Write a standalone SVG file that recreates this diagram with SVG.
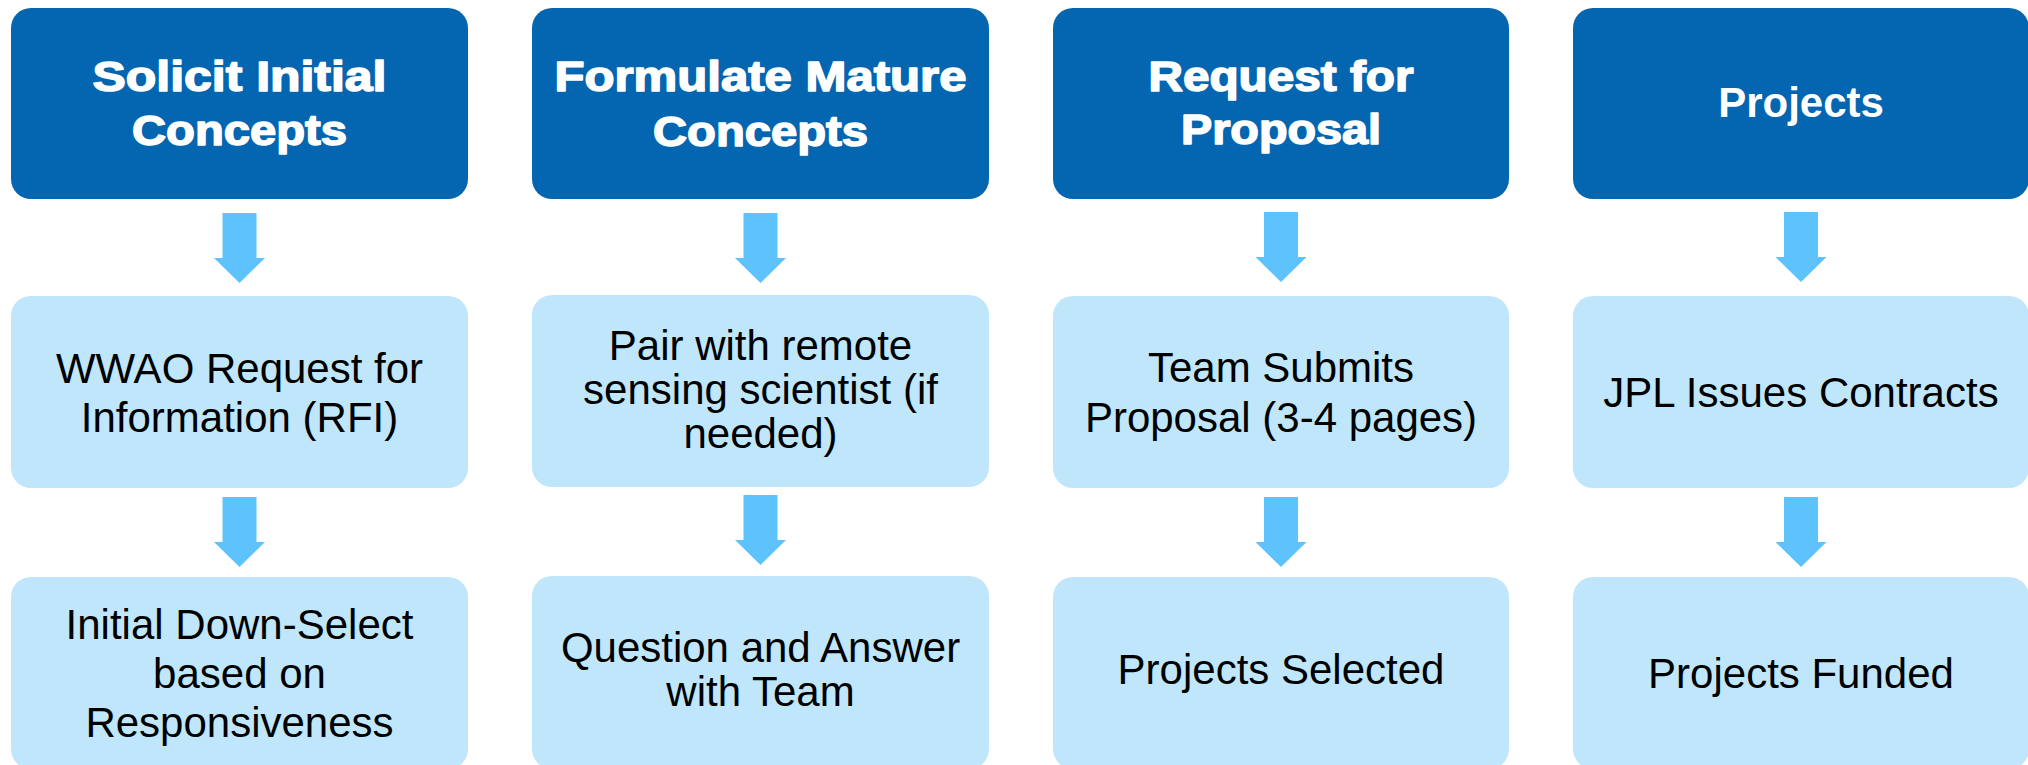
<svg xmlns="http://www.w3.org/2000/svg" width="2028" height="765" viewBox="0 0 2028 765">
  <style>
    .hdr { fill: #0466B1; }
    .box { fill: #BFE6FA; }
    .arrow { fill: #5EC3FC; }
    .ht { font-family: "Liberation Sans", Arial, sans-serif; font-weight: bold; font-size: 42px; fill: #FFFFFF; text-anchor: middle; }
    .heavy { stroke: #FFFFFF; stroke-width: 1.5px; stroke-linejoin: round; }
    .bt { font-family: "Liberation Sans", Arial, sans-serif; font-size: 42px; fill: #000000; text-anchor: middle; }
  </style>
  <defs>
    <!-- block arrow pointing down, origin at top centre of the shaft, total height 70 -->
    <path id="down-arrow" d="M-17,0 H17 V45 H25.5 L0,70 L-25.5,45 H-17 Z"/>
  </defs>

  <rect width="2028" height="765" fill="#FFFFFF"/>

  <!-- Column 1 -->
  <g id="solicit-initial-concepts">
    <rect class="hdr" x="11" y="8" width="457" height="191" rx="20"/>
    <text class="ht heavy"><tspan x="239.5" y="91" textLength="294" lengthAdjust="spacingAndGlyphs">Solicit Initial</tspan><tspan x="239.5" y="145" textLength="215" lengthAdjust="spacingAndGlyphs">Concepts</tspan></text>
  </g>
  <g id="wwao-rfi">
    <rect class="box" x="11" y="296" width="457" height="192" rx="20"/>
    <text class="bt"><tspan x="239.5" y="383">WWAO Request for</tspan><tspan x="239.5" y="432">Information (RFI)</tspan></text>
  </g>
  <g id="initial-down-select">
    <rect class="box" x="11" y="577" width="457" height="192" rx="20"/>
    <text class="bt"><tspan x="239.5" y="639">Initial Down-Select</tspan><tspan x="239.5" y="688">based on</tspan><tspan x="239.5" y="737">Responsiveness</tspan></text>
  </g>

  <!-- Column 2 -->
  <g id="formulate-mature-concepts">
    <rect class="hdr" x="532" y="8" width="457" height="191" rx="20"/>
    <text class="ht heavy"><tspan x="760.5" y="91" textLength="412" lengthAdjust="spacingAndGlyphs">Formulate Mature</tspan><tspan x="760.5" y="146" textLength="215" lengthAdjust="spacingAndGlyphs">Concepts</tspan></text>
  </g>
  <g id="pair-with-scientist">
    <rect class="box" x="532" y="295" width="457" height="192" rx="20"/>
    <text class="bt"><tspan x="760.5" y="360">Pair with remote</tspan><tspan x="760.5" y="404">sensing scientist (if</tspan><tspan x="760.5" y="448">needed)</tspan></text>
  </g>
  <g id="question-and-answer">
    <rect class="box" x="532" y="576" width="457" height="193" rx="20"/>
    <text class="bt"><tspan x="760.5" y="662">Question and Answer</tspan><tspan x="760.5" y="706">with Team</tspan></text>
  </g>

  <!-- Column 3 -->
  <g id="request-for-proposal">
    <rect class="hdr" x="1053" y="8" width="456" height="191" rx="20"/>
    <text class="ht heavy"><tspan x="1281" y="91" textLength="265" lengthAdjust="spacingAndGlyphs">Request for</tspan><tspan x="1281" y="144" textLength="200" lengthAdjust="spacingAndGlyphs">Proposal</tspan></text>
  </g>
  <g id="team-submits-proposal">
    <rect class="box" x="1053" y="296" width="456" height="192" rx="20"/>
    <text class="bt"><tspan x="1281" y="382">Team Submits</tspan><tspan x="1281" y="432">Proposal (3-4 pages)</tspan></text>
  </g>
  <g id="projects-selected">
    <rect class="box" x="1053" y="577" width="456" height="192" rx="20"/>
    <text class="bt" x="1281" y="684">Projects Selected</text>
  </g>

  <!-- Column 4 -->
  <g id="projects">
    <rect class="hdr" x="1573" y="8" width="456" height="191" rx="20"/>
    <text class="ht" x="1801" y="117">Projects</text>
  </g>
  <g id="jpl-issues-contracts">
    <rect class="box" x="1573" y="296" width="456" height="192" rx="20"/>
    <text class="bt" x="1801" y="407">JPL Issues Contracts</text>
  </g>
  <g id="projects-funded">
    <rect class="box" x="1573" y="577" width="456" height="192" rx="20"/>
    <text class="bt" x="1801" y="688">Projects Funded</text>
  </g>

  <!-- Connectors -->
  <g id="connectors" class="arrow">
    <use href="#down-arrow" x="239.5" y="213"/>
    <use href="#down-arrow" x="239.5" y="497"/>
    <use href="#down-arrow" x="760.5" y="213"/>
    <use href="#down-arrow" x="760.5" y="495"/>
    <use href="#down-arrow" x="1281" y="212"/>
    <use href="#down-arrow" x="1281" y="497"/>
    <use href="#down-arrow" x="1801" y="212"/>
    <use href="#down-arrow" x="1801" y="497"/>
  </g>
</svg>
